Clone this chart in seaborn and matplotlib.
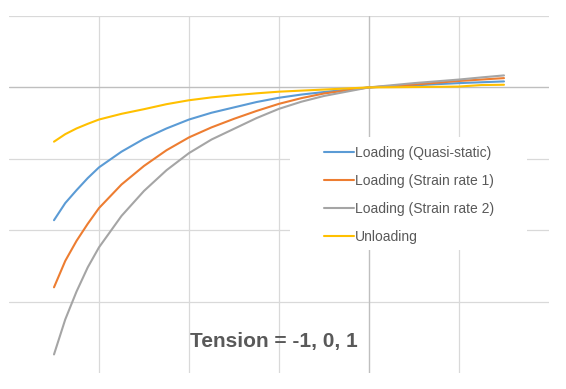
import numpy as np
import pandas as pd
import matplotlib
matplotlib.use('Agg')
import matplotlib.pyplot as plt
import matplotlib.patches as patches
import seaborn as sns

# values
x = [-3.5, -3.375, -3.25, -3.125, -3.0, -2.75, -2.5, -2.25, -2.0, -1.75,
     -1.5, -1.25, -1.0, -0.75, -0.5, 0.0, 0.25, 0.5, 0.75, 1.0, 1.25, 1.5]
quasi_static = [-1.86, -1.62, -1.44, -1.27, -1.12, -0.90, -0.72, -0.575, -0.45, -0.355,
                -0.28, -0.205, -0.145, -0.10, -0.065, 0.0, 0.014, 0.028, 0.045, 0.06, 0.072, 0.084]
strain_rate_1 = [-2.80, -2.43, -2.15, -1.91, -1.69, -1.36, -1.10, -0.88, -0.70, -0.56,
                 -0.44, -0.33, -0.23, -0.15, -0.085, 0.0, 0.02, 0.04, 0.065, 0.09, 0.11, 0.13]
strain_rate_2 = [-3.74, -3.25, -2.86, -2.52, -2.24, -1.80, -1.45, -1.16, -0.92, -0.73,
                 -0.58, -0.43, -0.30, -0.20, -0.12, 0.0, 0.03, 0.06, 0.085, 0.11, 0.14, 0.168]
unloading = [-0.76, -0.655, -0.575, -0.51, -0.45, -0.37, -0.305, -0.235, -0.18, -0.14,
             -0.11, -0.083, -0.06, -0.045, -0.03, 0.0, 0.002, 0.005, 0.008, 0.012, 0.033, 0.037]

labels = ['Loading (Quasi-static)', 'Loading (Strain rate 1)',
          'Loading (Strain rate 2)', 'Unloading']
colors = ['#5B9BD5', '#ED7D31', '#A5A5A5', '#FFC000']
series = [quasi_static, strain_rate_1, strain_rate_2, unloading]

df = pd.concat([pd.DataFrame({'x': x, 'y': s, 'series': lab})
                for s, lab in zip(series, labels)], ignore_index=True)

sns.set_style('white')
plt.rcParams['font.family'] = ['Liberation Sans', 'DejaVu Sans']

fig = plt.figure(figsize=(5.66, 3.89), dpi=100)
ax = fig.add_axes([9 / 566, 1 - 373 / 389, 540 / 566, 357 / 389])

sns.lineplot(data=df, x='x', y='y', hue='series', palette=colors,
             hue_order=labels, sort=False, linewidth=1.5, ax=ax, zorder=2)

ax.set_xlim(-4, 2)
ax.set_ylim(-4, 1)
ax.set_xticks([-3, -2, -1, 0, 1])
ax.set_yticks([-3, -2, -1, 0, 1])
ax.set_axisbelow(True)
ax.grid(True, color='#D9D9D9', linewidth=0.9)
ax.tick_params(length=0, labelbottom=False, labelleft=False)
ax.set_xlabel('')
ax.set_ylabel('')
for sp in ax.spines.values():
    sp.set_visible(False)
ax.axhline(0, color='#BFBFBF', linewidth=0.9, zorder=1)
ax.axvline(0, color='#BFBFBF', linewidth=0.9, zorder=1)

# white legend area
ax.add_patch(patches.Rectangle((290 / 566, 1 - 250 / 389), 237 / 566, 113 / 389,
                               transform=fig.transFigure, facecolor='white',
                               edgecolor='none', zorder=1.5))

handles, _ = ax.get_legend_handles_labels()
leg = ax.legend(handles, labels, loc='center',
                bbox_to_anchor=(409 / 566, 1 - 195 / 389),
                bbox_transform=fig.transFigure, frameon=False, fontsize=10,
                handlelength=2.15, handletextpad=0.1, labelspacing=1.0)
for t in leg.get_texts():
    t.set_color('#595959')

fig.text(274 / 566, 1 - 341 / 389, 'Tension = -1, 0, 1', ha='center', va='center',
         fontsize=15, fontweight='bold', color='#595959')

fig.savefig('out.png', dpi=100)
